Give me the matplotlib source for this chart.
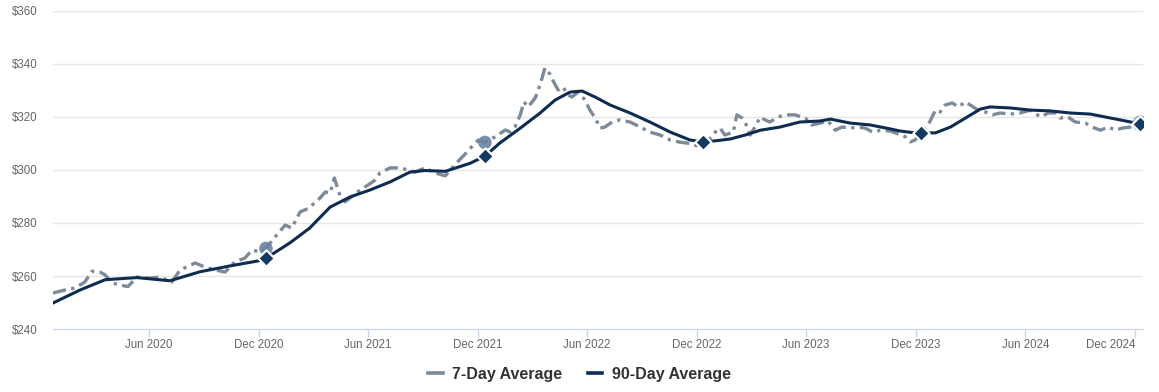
import matplotlib
matplotlib.use("Agg")
import matplotlib.pyplot as plt
import matplotlib.dates as mdates
from matplotlib.lines import Line2D
import pandas as pd

# series start date, all offsets below are days from this
start = "2019-12-24"

# 7-day average (days offset, price)
days_7 = [0, 20, 37, 53, 65, 78, 87, 98, 112, 125, 140, 162, 178, 198, 212, 237,
          253, 270, 287, 303, 320, 332, 345, 355, 370, 387, 398, 412, 428, 437,
          445, 454, 462, 469, 479, 487, 495, 512, 525, 537, 545, 562, 579, 604,
          620, 637, 654, 670, 687, 699, 709, 720, 737, 754, 762, 770, 779, 785,
          792, 804, 812, 820, 829, 834, 842, 850, 859, 865, 875, 887, 895, 904,
          912, 920, 932, 945, 962, 979, 995, 1012, 1029, 1045, 1062, 1079, 1084,
          1092, 1104, 1112, 1120, 1134, 1140, 1149, 1157, 1162, 1170, 1179, 1187,
          1195, 1209, 1220, 1237, 1254, 1265, 1279, 1292, 1304, 1315, 1329, 1342,
          1354, 1366, 1379, 1396, 1404, 1421, 1429, 1437, 1447, 1459, 1471, 1479,
          1487, 1499, 1509, 1521, 1529, 1542, 1554, 1566, 1579, 1596, 1612, 1629,
          1646, 1659, 1671, 1679, 1692, 1704, 1721, 1732, 1746, 1759, 1771, 1782,
          1796, 1812]
avg_7 = [253.6, 254.7, 255.5, 257.7, 261.8, 261.5, 260.4, 257.4, 256.6, 256.0,
         259.6, 259.2, 259.6, 257.7, 262.3, 264.9, 263.4, 262.3, 261.5, 265.3,
         266.8, 269.8, 269.1, 270.4, 274.7, 279.2, 278.1, 284.2, 285.7, 287.9,
         289.4, 291.7, 291.3, 297.0, 290.0, 288.0, 289.4, 292.5, 294.3, 296.2,
         298.9, 300.8, 300.8, 299.2, 300.8, 298.9, 297.8, 302.0, 306.0, 309.0,
         311.3, 310.4, 312.5, 315.1, 314.3, 316.2, 320.8, 325.7, 323.8, 327.2,
         332.1, 338.5, 336.0, 333.5, 330.2, 331.3, 328.3, 327.5, 329.4, 326.4,
         322.6, 319.6, 315.8, 316.2, 318.1, 318.9, 318.1, 316.2, 314.3, 313.2,
         311.3, 310.5, 310.0, 308.7, 310.8, 311.0, 314.3, 315.8, 313.2, 314.3,
         320.8, 319.5, 316.5, 313.2, 316.2, 320.0, 318.9, 318.1, 320.0, 320.8,
         320.8, 319.6, 317.0, 317.7, 318.5, 315.0, 316.2, 315.8, 316.2, 315.8,
         314.3, 315.0, 314.7, 314.0, 312.5, 310.6, 311.3, 314.0, 317.0, 322.6,
         321.9, 324.5, 325.3, 323.8, 325.7, 324.5, 322.6, 321.9, 320.8, 321.5,
         321.1, 321.5, 322.6, 320.0, 321.5, 321.5, 319.6, 320.0, 318.1, 317.7,
         316.2, 315.0, 316.2, 315.0, 315.8, 316.2, 317.7]

# 90-day average (days offset, price)
days_90 = [0, 45, 87, 140, 195, 245, 295, 342, 355, 395, 428, 462, 495, 529, 562,
           595, 620, 654, 695, 720, 745, 779, 812, 837, 862, 882, 904, 929, 962,
           995, 1029, 1062, 1084, 1104, 1129, 1154, 1179, 1212, 1245, 1279, 1296,
           1329, 1362, 1396, 1412, 1437, 1447, 1471, 1496, 1521, 1546, 1562, 1596,
           1629, 1662, 1696, 1729, 1754, 1779, 1812]
avg_90 = [249.8, 254.7, 258.6, 259.4, 258.2, 261.6, 263.8, 265.7, 266.7, 272.5,
          278.1, 286.0, 289.8, 292.5, 295.5, 299.2, 299.8, 299.5, 302.5, 305.2,
          310.2, 315.8, 321.5, 326.4, 329.4, 329.8, 327.5, 324.5, 321.5, 318.1,
          314.3, 311.3, 310.6, 311.0, 311.7, 313.2, 315.0, 316.2, 318.1, 318.5,
          319.2, 317.7, 317.0, 315.5, 314.7, 314.0, 314.0, 314.0, 316.2, 319.6,
          323.0, 323.8, 323.4, 322.6, 322.3, 321.5, 321.1, 320.0, 318.9, 317.4]

# highlighted points, same day each year
mark_days = [355, 720, 1084, 1447, 1812]

yticks = [240, 260, 280, 300, 320, 340, 360]
xticks = ["2020-06-01", "2020-12-01", "2021-06-01", "2021-12-01", "2022-06-01",
          "2022-12-01", "2023-06-01", "2023-12-01", "2024-06-01", "2024-12-01"]

c7 = "#7d8a99"
c90 = "#0e2c50"

t0 = pd.Timestamp(start)
d7 = t0 + pd.to_timedelta(days_7, unit="D")
d90 = t0 + pd.to_timedelta(days_90, unit="D")

plt.rcParams["font.family"] = ["Liberation Sans", "DejaVu Sans"]

fig = plt.figure(figsize=(11.59, 3.92), dpi=100)
ax = fig.add_axes([0.0457, 0.1607, 0.9405, 0.8113])

ax.plot(d7, avg_7, color=c7, lw=2.4, linestyle=(0, (4, 1.6, 1, 1.6)),
        solid_capstyle="butt", zorder=2)
ax.plot(d90, avg_90, color=c90, lw=2.2, zorder=3)

# markers
mk7 = [avg_7[days_7.index(d)] for d in mark_days]
mk90 = [avg_90[days_90.index(d)] for d in mark_days]
md = t0 + pd.to_timedelta(mark_days, unit="D")
ax.scatter(md[:2], mk7[:2], s=95, color="#6a829f", alpha=0.9, zorder=4,
           edgecolors="none")
ax.scatter(md[-1:], mk7[-1:], s=110, color="white", edgecolors="#9aa6b4",
           linewidths=1.2, zorder=4)
ax.scatter(md, mk90, s=70, marker="D", color="#133a63", edgecolors="white",
           linewidths=1.5, zorder=5)

ax.set_ylim(240, 360)
ax.set_yticks(yticks)
ax.set_yticklabels([f"${v}" for v in yticks])
ax.set_xlim(t0, t0 + pd.Timedelta(days=1817))
ax.set_xticks(pd.to_datetime(xticks))
ax.xaxis.set_major_formatter(mdates.DateFormatter("%b %Y"))

ax.grid(axis="y", color="#e6e6e6", lw=1)
ax.set_axisbelow(True)
for s in ["top", "right", "left"]:
    ax.spines[s].set_visible(False)
ax.spines["bottom"].set_color("#ccd6eb")
ax.tick_params(axis="y", length=0, pad=11, labelsize=8.3, labelcolor="#666666")
ax.tick_params(axis="x", length=6, width=1, color="#ccd6eb", pad=1.5,
               labelsize=8.3, labelcolor="#666666")

# last label kept inside the plot, as in the original
fig.canvas.draw()
ax.get_xticklabels()[-1].set_horizontalalignment("right")

handles = [Line2D([], [], color=c7, lw=2.6), Line2D([], [], color=c90, lw=2.6)]
fig.legend(handles, ["7-Day Average", "90-Day Average"], loc="center",
           bbox_to_anchor=(0.5, 0.045), ncol=2, frameon=False,
           handlelength=0.9, handletextpad=0.6, columnspacing=1.6,
           prop={"weight": "bold", "size": 11.5}, labelcolor="#333333")

fig.savefig("out.png", dpi=100)
